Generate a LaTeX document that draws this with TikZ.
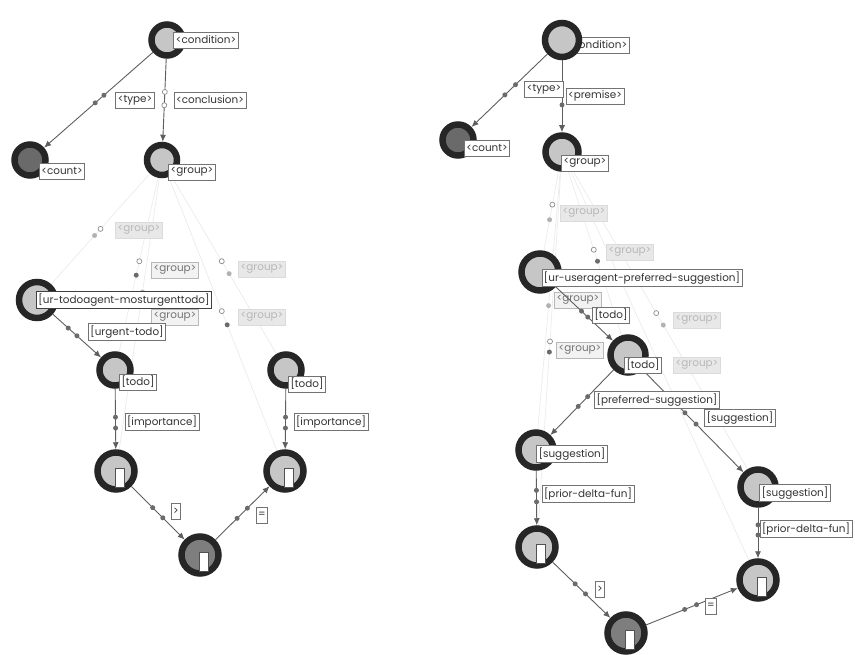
\documentclass[tikz,border=0pt]{standalone}
\usepackage{fontspec}
\setmainfont{Poppins}
\usetikzlibrary{arrows.meta,calc}
\definecolor{ring}{HTML}{262626}
\definecolor{vlight}{HTML}{C6C6C6}
\definecolor{vdark}{HTML}{6A6A6A}
\definecolor{vmid}{HTML}{7E7E7E}
\definecolor{egrey}{HTML}{5E5E5E}
\pgfdeclarelayer{bg}
\pgfsetlayers{bg,main}
\tikzset{
  vtx/.style={circle, draw=ring, line width=6.5pt, fill=vlight, inner sep=0pt, minimum size=#1},
  bar/.style={draw=ring!80, fill=white, line width=0.7pt, minimum width=9pt, minimum height=19pt, inner sep=0pt},
  link/.style={draw=egrey, line width=0.9pt, -{Latex[length=7pt,width=6pt]}},
  flink/.style={draw=black!7, line width=0.8pt},
  dotmark/.style={circle, fill=black!58, inner sep=0pt, minimum size=5pt},
  hdot/.style={circle, draw=black!45, fill=white, line width=0.7pt, inner sep=0pt, minimum size=5pt},
  fdot/.style={circle, fill=black!30, inner sep=0pt, minimum size=5pt},
  lbl/.style={draw=black!55, fill=white, text=black!80, line width=0.8pt, inner sep=2pt, minimum height=16pt},
  mlbl/.style={draw=black!28, fill=black!5, text=black!55, line width=0.7pt, inner sep=2pt, minimum height=16pt},
  flbl/.style={draw=black!14, fill=black!9, text=black!28, line width=0.7pt, inner sep=2pt, minimum height=16pt},
}
\begin{document}
\begin{tikzpicture}[x=1pt, y=-1pt, font=\fontsize{10.4}{12}\selectfont]
\useasboundingbox (0,0) rectangle (855,655);

% ---------- left rule: vertices ----------
\node[vtx=31] (cond1) at (167,40) {};
\node[vtx=31, fill=vdark] (count1) at (30,160) {};
\node[vtx=30] (group1) at (162,160) {};
\node[vtx=36] (urtodo) at (37,300) {};
\node[vtx=31] (todo1) at (115,370) {};
\node[vtx=31] (todo2) at (286,370) {};
\node[vtx=37] (box1) at (116,471) {};
\node[vtx=37] (box2) at (285,471) {};
\node[vtx=37, fill=vmid] (bot1) at (200,555) {};
\node[bar] (bar1) at ($(box1)+(4,7)$) {};
\node[bar] (bar2) at ($(box2)+(4,7)$) {};
\node[bar] (bar3) at ($(bot1)+(4,7)$) {};

% ---------- right rule: vertices ----------
\node[vtx=34] (cond2) at (562,40) {};
\node[vtx=31, fill=vdark] (count2) at (458,140) {};
\node[vtx=33] (group2) at (562,152) {};
\node[vtx=37] (urua) at (540,272) {};
\node[vtx=35] (todo3) at (628,355) {};
\node[vtx=35] (sugg1) at (536,450) {};
\node[vtx=35] (sugg2) at (758,487) {};
\node[vtx=37] (box3) at (537,547) {};
\node[vtx=37] (box4) at (758,580) {};
\node[vtx=37, fill=vmid] (bot2) at (626,633) {};
\node[bar] (bar4) at ($(box3)+(4,7)$) {};
\node[bar] (bar5) at ($(box4)+(4,7)$) {};
\node[bar] (bar6) at ($(bot2)+(4,7)$) {};

% ---------- faint group links behind everything ----------
\begin{pgfonlayer}{bg}
\draw[flink] (group1) -- node[hdot,pos=.5]{} node[fdot,pos=.56]{} (urtodo);
\draw[flink] (group1) -- node[hdot,pos=.48]{} node[dotmark,pos=.56]{} (todo1);
\draw[flink] (group1) -- node[hdot,pos=.48]{} node[fdot,pos=.55]{} (todo2);
\draw[flink] (group1) -- node[fdot,pos=.42]{} (box1);
\draw[flink] (group1) -- node[hdot,pos=.49]{} node[dotmark,pos=.54]{} (box2);
\node[flbl] (fg1) at (139,230) {<group>};
\node[mlbl] (fg2) at (175,270) {<group>};
\node[flbl] (fg3) at (262,269) {<group>};
\node[mlbl] (fg4) at (175,317) {<group>};
\node[flbl] (fg5) at (262,317) {<group>};

\draw[flink] (group2) -- node[hdot,pos=.42]{} node[fdot,pos=.61]{} (urua);
\draw[flink] (group2) -- node[hdot,pos=.48]{} node[dotmark,pos=.55]{} (todo3);
\draw[flink] (group2) -- node[fdot,pos=.52]{} (sugg1);
\draw[flink] (group2) -- node[hdot,pos=.48]{} node[fdot,pos=.52]{} (sugg2);
\draw[flink] (group2) -- node[hdot,pos=.48]{} node[dotmark,pos=.51]{} (box3);
\draw[flink] (group2) -- node[fdot,pos=.5]{} (box4);
\node[flbl] (fg6) at (584,213) {<group>};
\node[flbl] (fg7) at (630,252) {<group>};
\node[mlbl] (fg8) at (578,300) {<group>};
\node[flbl] (fg9) at (697,320) {<group>};
\node[mlbl] (fg10) at (580,350) {<group>};
\node[flbl] (fg11) at (697,365) {<group>};
% the condition label sits under its vertex
\node[lbl] (lcond2) at (597,45) {<condition>};
\end{pgfonlayer}

% ---------- left rule: links ----------
\draw[link] (cond1) -- node[dotmark,pos=.45]{} node[dotmark,pos=.53]{} (count1);
\draw[link] (cond1) -- node[hdot,pos=.4]{} node[hdot,pos=.56]{} (group1);
\draw[link] (urtodo) -- node[dotmark,pos=.32]{} node[dotmark,pos=.5]{} (todo1);
\draw[link] (todo1) -- node[dotmark,pos=.47]{} node[dotmark,pos=.65]{} (box1);
\draw[link] (box1) -- node[dotmark,pos=.4]{} node[dotmark,pos=.59]{} (bot1);
\draw[link] (bot1) -- node[dotmark,pos=.4]{} node[dotmark,pos=.59]{} (box2);
\draw[link] (todo2) -- node[dotmark,pos=.47]{} node[dotmark,pos=.65]{} (box2);

% ---------- right rule: links ----------
\draw[link] (cond2) -- node[dotmark,pos=.42]{} node[dotmark,pos=.56]{} (count2);
\draw[link] (cond2) -- node[dotmark,pos=.62]{} (group2);
\draw[link] (urua) -- node[dotmark,pos=.45]{} node[dotmark,pos=.56]{} (todo3);
\draw[link] (todo3) -- node[dotmark,pos=.41]{} node[dotmark,pos=.56]{} (sugg1);
\draw[link] (todo3) -- node[dotmark,pos=.42]{} node[dotmark,pos=.53]{} (sugg2);
\draw[link] (sugg1) -- node[dotmark,pos=.36]{} node[dotmark,pos=.57]{} (box3);
\draw[link] (sugg2) -- node[dotmark,pos=.34]{} node[dotmark,pos=.54]{} (box4);
\draw[link] (box3) -- node[dotmark,pos=.39]{} node[dotmark,pos=.57]{} (bot2);
\draw[link] (bot2) -- node[dotmark,pos=.42]{} node[dotmark,pos=.55]{} (box4);

% ---------- left rule: labels ----------
\node[lbl] (lcond1) at (206,40) {<condition>};
\node[lbl] (lcount1) at (62,171) {<count>};
\node[lbl] (lgroup1) at (192,172) {<group>};
\node[lbl] (ltype1) at (135,100) {<type>};
\node[lbl] (lconcl) at (210,100) {<conclusion>};
\node[lbl, line width=1.1pt, draw=black!75] (lurtodo) at (124,300) {[ur-todoagent-mosturgenttodo]};
\node[lbl] (lurgent) at (127,332) {[urgent-todo]};
\node[lbl] (ltodo1) at (138,382) {[todo]};
\node[lbl] (ltodo2) at (307,384) {[todo]};
\node[lbl] (limp1) at (162,422) {[importance]};
\node[lbl] (limp2) at (331,422) {[importance]};
\node[lbl] (lgt1) at (176,511) {>};
\node[lbl] (leq1) at (262,515) {=};

% ---------- right rule: labels ----------
\node[lbl] (lcount2) at (487,148) {<count>};
\node[lbl] (lgroup2) at (585,163) {<group>};
\node[lbl] (ltype2) at (544,89) {<type>};
\node[lbl] (lprem) at (595,96) {<premise>};
\node[lbl] (lurua) at (642,278) {[ur-useragent-preferred-suggestion]};
\node[lbl] (ltodoe) at (611,315) {[todo]};
\node[lbl] (ltodo3) at (643,365) {[todo]};
\node[lbl] (lpref) at (657,400) {[preferred-suggestion]};
\node[lbl] (lsugge) at (740,418) {[suggestion]};
\node[lbl] (lsugg1) at (572,454) {[suggestion]};
\node[lbl] (lsugg2) at (795,493) {[suggestion]};
\node[lbl] (lpdf1) at (588,494) {[prior-delta-fun]};
\node[lbl] (lpdf2) at (806,529) {[prior-delta-fun]};
\node[lbl] (lgt2) at (600,589) {>};
\node[lbl] (leq2) at (711,606) {=};
\end{tikzpicture}
\end{document}
